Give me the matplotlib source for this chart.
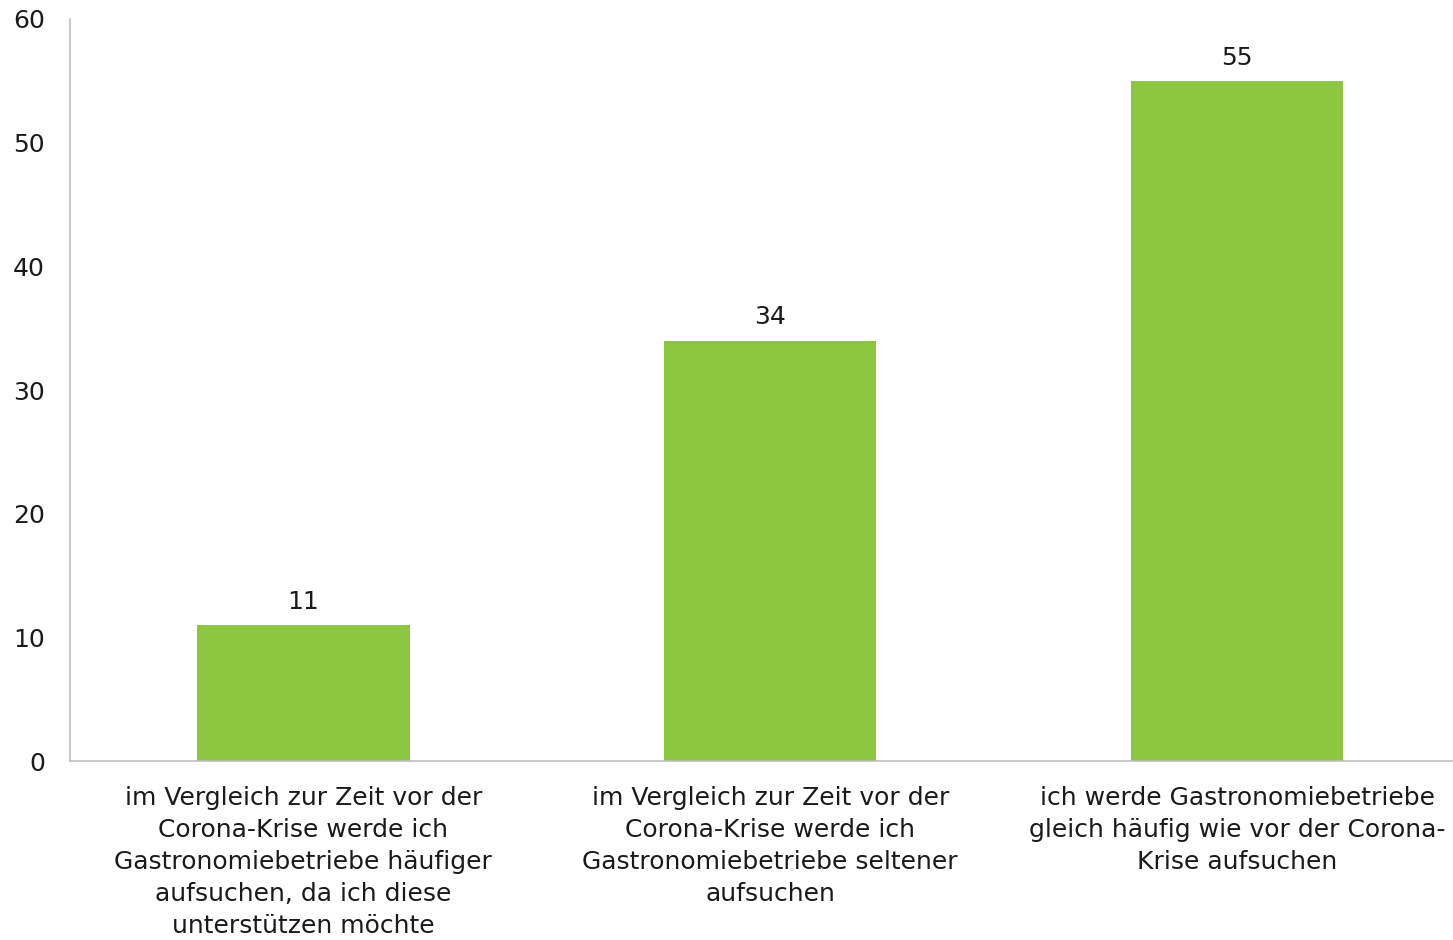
import matplotlib.pyplot as plt

categories = [
    "im Vergleich zur Zeit vor der\nCorona-Krise werde ich\nGastronomiebetriebe häufiger\naufsuchen, da ich diese\nunterstützen möchte",
    "im Vergleich zur Zeit vor der\nCorona-Krise werde ich\nGastronomiebetriebe seltener\naufsuchen",
    "ich werde Gastronomiebetriebe\ngleich häufig wie vor der Corona-\nKrise aufsuchen",
]
values = [11, 34, 55]
yticks = [0, 10, 20, 30, 40, 50, 60]

plt.rcParams['font.family'] = ['DejaVu Sans']

fig = plt.figure(figsize=(14.53, 9.40), dpi=100)
ax = fig.add_axes([0.0482, 0.1904, 0.9638, 0.7894])

x = range(len(values))
bars = ax.bar(x, values, width=0.455, color='#8DC63F', zorder=2)
for rect, v in zip(bars, values):
    ax.annotate(str(v), (rect.get_x() + rect.get_width() / 2, v),
                xytext=(0, 8), textcoords='offset points',
                ha='center', va='bottom', fontsize=18, color='#1a1a1a')

ax.set_xlim(-0.5, 2.5)
ax.set_ylim(0, 60)
ax.set_yticks(yticks)
ax.set_xticks(list(x))
ax.set_xticklabels(categories, fontsize=18, color='#1a1a1a', linespacing=1.42)
ax.tick_params(axis='y', length=0, pad=18, labelsize=18, labelcolor='#1a1a1a')
ax.tick_params(axis='x', length=0, pad=18)
for lab in ax.get_yticklabels():
    lab.set_horizontalalignment('right')

for side in ['top', 'right']:
    ax.spines[side].set_visible(False)
for side in ['left', 'bottom']:
    ax.spines[side].set_color('#BFBFBF')
    ax.spines[side].set_linewidth(1.2)

fig.savefig('out.png', dpi=100)
